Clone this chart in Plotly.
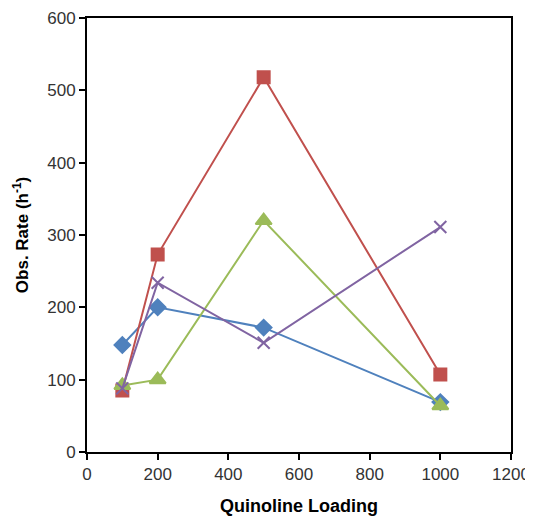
import plotly.graph_objects as go

loading = [100, 200, 500, 1000]
series_blue = [148, 200, 172, 69]
series_red = [85, 273, 518, 107]
series_green = [92, 100, 320, 64]
series_purple = [88, 234, 151, 311]

series = [
    ("Series1", series_blue, "#4F81BD", "diamond", 12),
    ("Series2", series_red, "#C0504D", "square", 12),
    ("Series3", series_green, "#9BBB59", "triangle-up", 14),
    ("Series4", series_purple, "#8064A2", "x-thin", 12),
]

fig = go.Figure()
for name, ys, color, sym, size in series:
    fig.add_trace(go.Scatter(
        x=loading, y=ys, name=name, mode="lines+markers",
        line=dict(color=color, width=2),
        marker=dict(symbol=sym, size=size, color=color,
                    line=dict(color=color, width=2)),
    ))

font = "Liberation Sans, Arial, sans-serif"
fig.update_layout(
    width=525, height=508,
    margin=dict(l=79, r=22, t=10, b=64),
    plot_bgcolor="white", paper_bgcolor="white",
    showlegend=False,
    font=dict(family=font, size=17, color="#333333"),
)
fig.update_xaxes(
    range=[0, 1200], tick0=0, dtick=200, automargin=False,
    showgrid=False, zeroline=False,
    showline=True, linecolor="black", linewidth=2, mirror=True,
    ticks="outside", ticklen=6, tickcolor="black", tickwidth=2,
    ticklabeloverflow="allow",
    title=dict(text="<b>Quinoline Loading</b>", font=dict(size=18, color="black"), standoff=16),
)
fig.update_yaxes(
    range=[0, 600], tick0=0, dtick=100, automargin=False,
    showgrid=False, zeroline=False,
    showline=True, linecolor="black", linewidth=2, mirror=True,
    ticks="outside", ticklen=6, tickcolor="black", tickwidth=2,
    title=dict(text="<b>Obs. Rate (h<sup>-1</sup>)</b>", font=dict(size=17, color="black"), standoff=14),
)

fig.write_html("out.html")
